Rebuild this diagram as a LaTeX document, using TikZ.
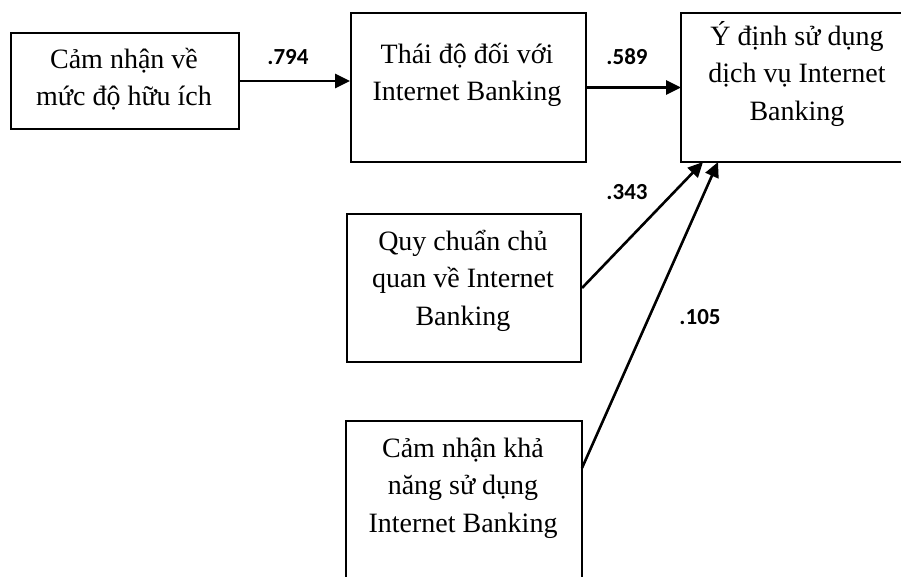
\documentclass[tikz,border=0pt]{standalone}
\usepackage{fontspec}
\setmainfont{Liberation Serif}
\newfontfamily\lblfont{Carlito}
\usetikzlibrary{arrows.meta,calc}
\tikzset{
  box/.style={draw=black, line width=2pt, rectangle, inner sep=0pt, anchor=north west},
  edge/.style={draw=black, line width=2pt},
  txt/.style={inner sep=0pt, anchor=north, align=center, font=\fontsize{28}{37.5}\selectfont},
  lbl/.style={inner sep=0pt, anchor=base, font=\lblfont\bfseries\fontsize{23}{26}\selectfont},
  arr/.style={line width=2.6pt, -{Triangle[length=15pt,width=14pt]}}
}
\begin{document}
\begin{tikzpicture}[x=1pt,y=-1pt]
\useasboundingbox (0,0) rectangle (901,576);
% boxes
\node[box, minimum width=228pt, minimum height=96pt] (b1) at (10,32) {};
\node[box, minimum width=235pt, minimum height=149pt] (b2) at (350,12) {};
\node[box, draw=none, minimum width=232pt, minimum height=147pt] (b3) at (681,13) {};
\draw[edge] (b3.north east) -- (b3.north west) -- (b3.south west) -- (b3.south east);
\node[box, minimum width=234pt, minimum height=148pt] (b4) at (346,213) {};
\node[box, draw=none, minimum width=234pt, minimum height=170pt] (b5) at (346,421) {};
\draw[edge] (b5.south west) -- (b5.north west) -- (b5.north east) -- (b5.south east);
% texts
\node[txt] (t1) at (124,{68-26.25}) {\strut Cảm nhận về\\mức độ hữu ích};
\node[txt] (t2) at (467,{63-26.25}) {\strut Thái độ đối với\\Internet Banking};
\node[txt] (t3) at (797,{45-26.25}) {\strut Ý định sử dụng\\dịch vụ Internet\\Banking};
\node[txt] (t4) at (463,{250-26.25}) {\strut Quy chuẩn chủ\\quan về Internet\\Banking};
\node[txt] (t5) at (463,{457-26.25}) {\strut Cảm nhận khả\\năng sử dụng\\Internet Banking};
% connector ends
\coordinate (e3) at ($(b3.south west)+(22,0)$);
\coordinate (e4) at ($(b3.south west)+(37,0)$);
\coordinate (s5) at ($(b5.north east)+(0,47)$);
% connectors
\draw[arr] (b1.east) -- (b1.east -| b2.west);
\draw[arr] (b2.east) -- (b2.east -| b3.west);
\draw[arr] (b4.east) -- (e3);
\draw[arr] (s5) -- (e4);
% labels
\node[lbl] (l1) at (288,64) {.794};
\node[lbl] (l2) at (627,64) {.589};
\node[lbl] (l3) at (627,199) {.343};
\node[lbl] (l4) at (700,324) {.105};
\end{tikzpicture}
\end{document}
